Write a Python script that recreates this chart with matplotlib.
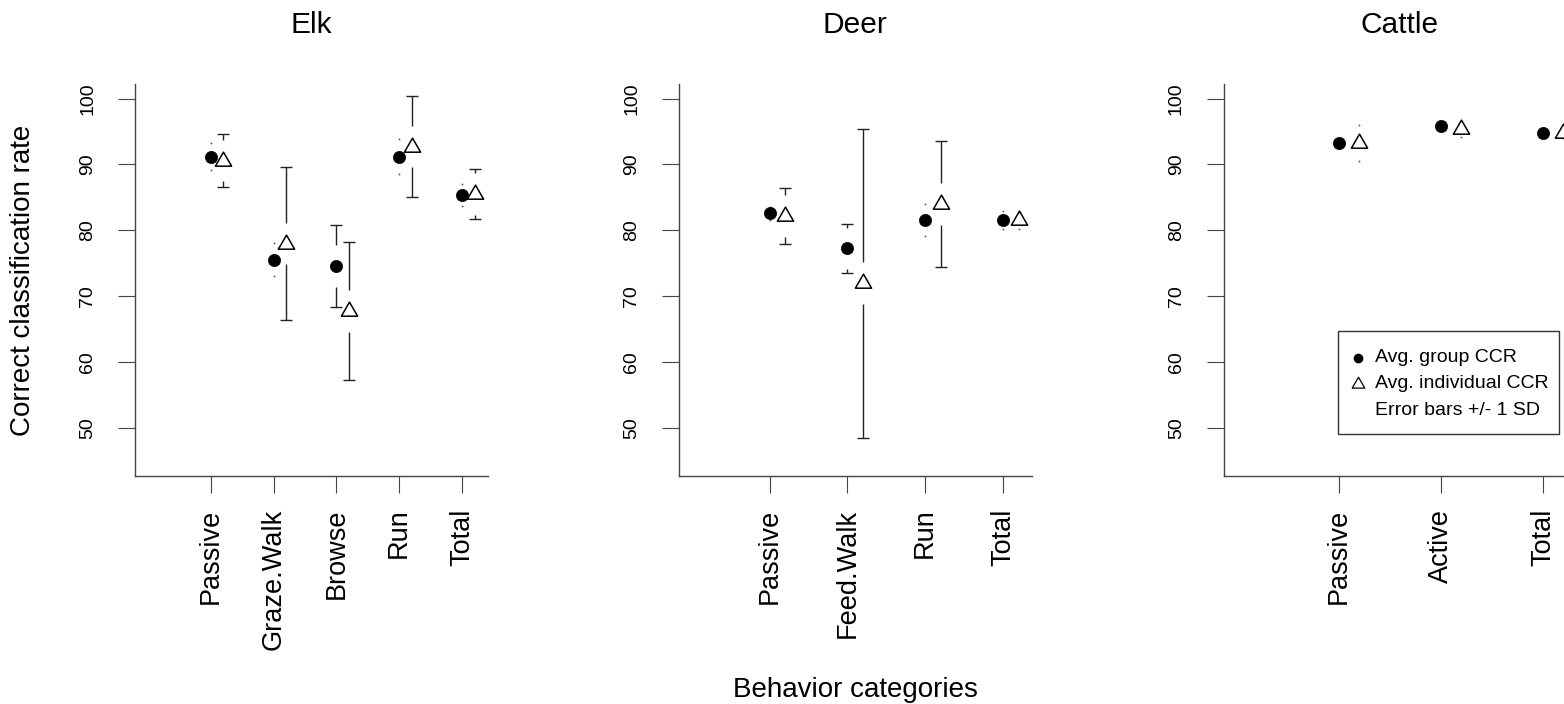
import numpy as np
import matplotlib
matplotlib.use('Agg')
import matplotlib.pyplot as plt
from matplotlib.path import Path
from matplotlib.patches import Rectangle

plt.rcParams['font.family'] = ['Liberation Sans', 'DejaVu Sans']

# values (mean and +/- 1 SD)
elk_cats = ['Passive', 'Graze.Walk', 'Browse', 'Run', 'Total']
elk_group = [91.2, 75.6, 74.6, 91.2, 85.4]
elk_group_sd = [2.1, 2.5, 6.2, 2.6, 1.7]
elk_indiv = [90.6, 78.0, 67.8, 92.7, 85.5]
elk_indiv_sd = [4.0, 11.6, 10.4, 7.7, 3.8]

deer_cats = ['Passive', 'Feed.Walk', 'Run', 'Total']
deer_group = [82.6, 77.3, 81.6, 81.6]
deer_group_sd = [1.0, 3.7, 2.4, 1.3]
deer_indiv = [82.2, 72.0, 84.0, 81.6]
deer_indiv_sd = [4.2, 23.4, 9.5, 1.4]

cattle_cats = ['Passive', 'Active', 'Total']
cattle_group = [93.2, 95.8, 94.7]
cattle_group_sd = [0.7, 0.7, 0.7]
cattle_indiv = [93.3, 95.4, 94.8]
cattle_indiv_sd = [2.7, 1.2, 0.8]

yticks = [50, 60, 70, 80, 90, 100]
legend_labels = ['Avg. group CCR', 'Avg. individual CCR', 'Error bars +/- 1 SD']

GAP = 3.15          # gap left around each point (plotCI style)
OFFSET = 0.2        # individual CCR drawn right of group CCR
BAR = '#222222'
AXC = '#444444'
# triangle centred on its centroid, like R's pch = 2
TRI = Path([(0, 1), (-0.866, -0.5), (0.866, -0.5), (0, 1)], closed=True)


def ci(ax, x, m, sd):
    hi, lo = m + sd, m - sd
    for end, near in ((hi, min(m + GAP, hi)), (lo, max(m - GAP, lo))):
        if end == near:
            # zero length arrow -> only a dot is left
            ax.plot(x, end, marker='o', ms=1.3, mew=0, color='#555555')
        else:
            ax.plot([x, x], [near, end], color=BAR, lw=1.0, solid_capstyle='butt')
            ax.plot(x, end, marker='_', ms=8.6, mew=1.0, color=BAR)


fig = plt.figure(figsize=(15.64, 7.04), dpi=100)

panels = [('Elk', elk_cats, elk_group, elk_group_sd, elk_indiv, elk_indiv_sd),
          ('Deer', deer_cats, deer_group, deer_group_sd, deer_indiv, deer_indiv_sd),
          ('Cattle', cattle_cats, cattle_group, cattle_group_sd, cattle_indiv, cattle_indiv_sd)]
lefts = [0.0863, 0.4341, 0.7824]
W, B, H = 0.2255, 0.3239, 0.5568

for left, (title, cats, g, gsd, ind, isd) in zip(lefts, panels):
    ax = fig.add_axes([left, B, W, H])
    n = len(cats)
    x = np.arange(1, n + 1)
    span = n + OFFSET
    ax.set_xlim(-0.04 * span, span + 0.04 * span)
    ax.set_ylim(45 - 0.04 * 55, 100 + 0.04 * 55)

    for xi, m, s in zip(x, g, gsd):
        ci(ax, xi, m, s)
    for xi, m, s in zip(x + OFFSET, ind, isd):
        ci(ax, xi, m, s)
    ax.plot(x, g, ls='', marker='o', ms=8.8, mew=0.5, color='black', zorder=3)
    ax.plot(x + OFFSET, ind, ls='', marker=TRI, ms=13.5, mew=1.1,
            mfc='white', mec='black', zorder=3)

    for side in ['top', 'right']:
        ax.spines[side].set_visible(False)
    for side in ['left', 'bottom']:
        ax.spines[side].set_color(AXC)
        ax.spines[side].set_linewidth(1.0)

    ax.set_xticks(x)
    ax.set_xticklabels(cats, rotation=90, va='top', ha='center', fontsize=19.5)
    ax.set_yticks(yticks)
    ax.set_yticklabels([str(v) for v in yticks], rotation=90, va='center', fontsize=14)
    ax.tick_params(axis='x', length=12, width=0.8, color=AXC, pad=11.5)
    ax.tick_params(axis='y', length=12, width=0.8, color=AXC, pad=16)

    fig.text(left + W / 2, 1 - 33 / 704, title, ha='center', va='baseline', fontsize=21.5)

    if title == 'Cattle':
        # legend box, placed in axes fractions
        ax.add_patch(Rectangle((0.324, 0.107), 0.627, 0.263, transform=ax.transAxes,
                               facecolor='white', edgecolor='#333333', lw=1.0,
                               clip_on=False, zorder=4))
        rows = [0.301, 0.235, 0.168]
        ax.plot(0.381, rows[0], transform=ax.transAxes, marker='o', ms=6,
                color='black', clip_on=False, zorder=5)
        ax.plot(0.381, rows[1], transform=ax.transAxes, marker=TRI, ms=10.5, mew=0.9,
                mfc='white', mec='black', clip_on=False, zorder=5)
        for yy, lab in zip(rows, legend_labels):
            ax.text(0.430, yy, lab, transform=ax.transAxes, fontsize=14,
                    ha='left', va='center', zorder=5)

fig.text(23 / 1564, 1 - 280 / 704, 'Correct classification rate', rotation=90,
         ha='center', va='center', fontsize=20)
fig.text(855 / 1564, 1 - 697 / 704, 'Behavior categories', ha='center', va='baseline', fontsize=20)

fig.savefig('out.png', dpi=100)
